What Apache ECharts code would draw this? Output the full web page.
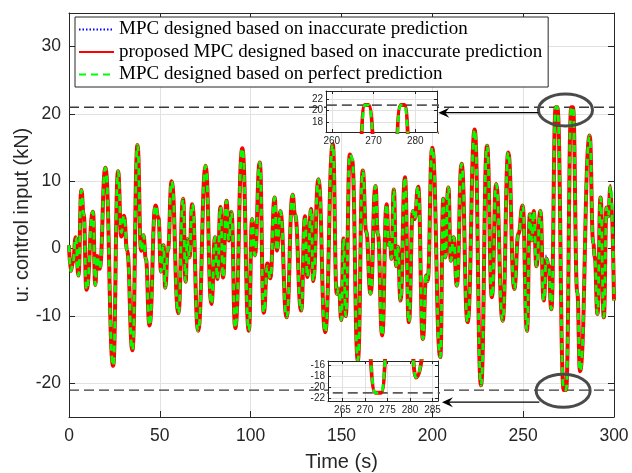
<!DOCTYPE html>
<html><head><meta charset="utf-8">
<script src="https://cdn.jsdelivr.net/npm/echarts@6/dist/echarts.min.js"></script>
<style>html,body{margin:0;padding:0;background:#fff}#c{width:632px;height:473px}</style>
</head><body><div id="c"></div>
<script>
// ---- data ----
const timeS = [
  0, 1.0, 2.2, 3.7, 5.2, 6.8, 8.1, 9.6, 13.2, 14.5,
  15.4, 16.9, 20.0, 24.3, 27.0, 28.8, 30.3, 32.0, 34.9, 37.7,
  39.7, 41.0, 42.3, 44.3, 47.6, 49.2, 50.7, 52.0, 53.0, 54.4,
  56.5, 60.2, 62.8, 64.2, 65.1, 66.3, 67.8, 71.1, 75.2, 78.4,
  80.4, 81.7, 83.4, 84.8, 86.7, 88.0, 89.4, 91.5, 95.4, 99.0,
  100.8, 102.3, 105.0, 107.2, 109.2, 110.8, 113.2, 114.5, 116.3, 119.8,
  123.1, 124.4, 127.8, 129.9, 131.2, 133.3, 134.4, 137.3, 141.0, 145.2,
  147.4, 148.6, 149.9, 151.1, 152.3, 154.6, 155.8, 159.0, 161.7, 163.6,
  166.0, 168.7, 170.0, 172.4, 174.8, 176.1, 176.8, 177.5, 178.8, 180.1,
  181.0, 182.5, 184.9, 187.1, 189.3, 190.3, 192.2, 194.8, 196.6, 197.4,
  199.9, 204.4, 206.0, 207.1, 208.8, 210.2, 211.7, 213.5, 216.1, 219.4,
  223.3, 226.8, 230.1, 232.8, 235.1, 238.7, 241.8, 245.1, 247.4, 249.7,
  252.1, 253.7, 254.8, 255.8, 257.3, 259.5, 261.3, 262.8, 264.0, 265.5,
  267.9, 268.8, 272.3, 273.6, 276.5, 277.4, 279.8, 281.3, 286.6, 288.6,
  289.4, 290.9, 292.6, 294.4, 295.9, 296.8, 298.1, 300.0
];
const uProposed = [
  0.5, -3.3, -2.0, 1.7, -4.0, 8.7, 5.1, -6.1, 5.5, -5.4,
  -1.1, -3.0, 12.0, -17.4, 11.5, 1.8, 4.9, -0.3, -15.1, 15.4,
  -0.3, 2.0, -1.5, -11.4, 6.4, 4.6, -3.4, 0.5, -5.8, -0.3,
  10.0, -9.6, 7.4, -4.9, 1.4, -1.3, 6.6, -12.2, 12.3, -8.2,
  1.7, -4.5, 6.2, -4.3, 7.1, 1.2, 5.5, -11.8, 14.9, -12.2,
  4.4, -1.0, 12.8, -9.5, -2.2, -4.4, 7.6, -0.3, 5.6, -10.2,
  8.0, 5.1, -9.2, 4.8, -4.2, 5.9, -4.8, 10.3, -12.4, 15.5,
  -6.7, -5.9, -10.6, 1.5, -10.0, 14.0, 13.2, -16.6, 11.6, 2.5,
  -6.7, 9.3, 2.2, -12.9, 6.6, 0.5, 1.3, -1.5, 8.8, -2.6,
  0.3, -7.7, 10.6, -10.9, 5.6, 4.4, 9.2, -13.4, -4.0, -4.8,
  15.0, -16.1, 7.4, -1.3, 9.1, -1.8, 1.7, -5.5, 12.6, -10.9,
  17.7, -20.3, 15.3, -7.2, 9.6, -10.7, 14.3, -6.0, 2.2, 6.4,
  -12.2, 5.1, 1.2, 5.6, -2.6, 5.6, -7.7, -1.5, -2.5, -9.0,
  21, 21, -21, -21, 21, 21, -6.5, -18.2, 16.8, 0.8,
  -1.2, -9.7, 7.6, -10.2, 6.1, 4.8, 9.3, -7.7
];
const uPerfect = [
  0.5, -3.3, -2.0, 1.7, -4.0, 8.7, 5.1, -6.1, 5.5, -5.4,
  -1.1, -3.0, 12.0, -17.4, 11.5, 2.4, 4.9, -0.3, -15.1, 15.4,
  -0.3, 2.0, -1.5, -11.4, 6.4, 4.6, -3.4, 0.5, -5.8, -0.3,
  10.0, -9.6, 7.4, -4.9, 1.4, -1.3, 6.6, -12.2, 12.3, -8.2,
  1.7, -4.5, 6.2, -4.3, 7.1, 1.2, 5.5, -11.8, 14.9, -12.2,
  4.4, -1.0, 12.8, -9.5, -2.6, -4.4, 7.6, -0.3, 5.6, -10.2,
  8.0, 5.1, -9.2, 4.8, -4.2, 5.9, -4.8, 10.3, -12.4, 15.5,
  -6.7, -5.9, -10.6, 1.5, -10.0, 14.0, 13.5, -16.6, 11.6, 2.5,
  -6.7, 9.3, 2.2, -12.9, 6.6, 0.5, 1.3, -1.5, 8.8, -2.6,
  0.3, -7.7, 10.6, -10.9, 5.6, 4.4, 9.2, -13.4, -3.6, -4.8,
  15.0, -16.1, 7.4, -1.3, 9.1, -1.8, 1.7, -5.5, 12.6, -10.9,
  17.7, -20.3, 15.3, -7.2, 9.6, -10.7, 14.3, -6.0, 2.2, 6.4,
  -12.2, 5.1, 1.2, 5.6, -2.6, 5.6, -7.7, -1.5, -2.5, -9.0,
  21, 21, -21, -21, 21, 21, -6.5, -18.2, 16.8, 0.8,
  -1.2, -9.7, 7.6, -10.2, 6.1, 4.8, 9.3, -7.7
];
const uInaccurate = [
  0.5, -3.3, -2.0, 1.7, -4.0, 8.7, 5.1, -6.1, 5.5, -5.4,
  -1.5, -3.0, 12.0, -17.4, 11.5, 2.8, 4.9, -0.3, -15.1, 15.4,
  -0.3, 2.0, -1.5, -11.4, 6.4, 4.6, -3.4, 0.5, -5.8, -0.3,
  10.0, -9.6, 7.4, -4.9, 1.4, -1.3, 6.6, -12.2, 12.3, -8.2,
  1.7, -4.5, 6.2, -4.3, 7.1, 1.2, 5.5, -11.8, 14.9, -12.2,
  4.4, -1.0, 12.8, -9.5, -2.2, -4.4, 7.6, -0.3, 5.6, -10.2,
  8.0, 5.1, -9.2, 4.8, -4.2, 5.9, -4.8, 10.3, -12.4, 15.5,
  -6.7, -5.9, -10.6, 1.5, -10.0, 14.0, 13.2, -16.6, 11.6, 2.5,
  -6.7, 9.3, 2.2, -12.9, 6.6, 0.5, 1.3, -1.5, 8.8, -2.6,
  0.3, -7.7, 10.6, -10.9, 5.6, 5.4, 9.2, -13.4, -4.0, -4.8,
  15.0, -16.1, 7.4, -1.3, 9.1, -1.8, 1.7, -5.5, 12.6, -10.9,
  17.7, -20.3, 15.3, -7.2, 9.6, -10.7, 14.3, -6.0, 2.2, 6.4,
  -12.2, 5.1, 1.2, 5.6, -2.6, 5.6, -7.7, -1.0, -2.5, -9.0,
  21, 21, -21, -21, 21, 21, -6.5, -18.2, 16.8, 0.8,
  -1.2, -9.7, 7.6, -10.2, 6.1, 4.8, 9.3, -7.7
];
const seriesNames = [
  'MPC designed based on inaccurate prediction',
  'proposed MPC designed based on inaccurate prediction',
  'MPC designed based on perfect prediction'
];
const limitValue = 21;
const xTicksMain = [0, 50, 100, 150, 200, 250, 300];
const yTicksMain = [-20, -10, 0, 10, 20, 30];
const xTicksTopInset = [260, 270, 280];
const yTicksTopInset = [18, 20, 22];
const xTicksBotInset = [265, 270, 275, 280, 285];
const yTicksBotInset = [-22, -20, -18, -16];
// annotation anchors (data coordinates of main axes)
const ellipseTop = [273.3, 20.6];
const ellipseBot = [272.0, -21.1];
const arrowTop = [[258.4, 20.2], [203.3, 20.2]];
const arrowBot = [[258.9, -22.8], [205.3, -22.8]];

// ---- build ----
const AX = '#262626', GRIDC = '#e2e2e2';
const SANS = '"Liberation Sans", Arial, Helvetica, sans-serif';
const SERIF = '"Liberation Serif", "Times New Roman", serif';
function pairs(vals) { return timeS.map((t, i) => [t, vals[i]]); }
const limitLine = (v) => [[0, v], [300, v]];

function axisX(grid, pos, min, max, ticks, fs, tickLen, showLabel, z, extra) {
  return Object.assign({
    type: 'value', gridIndex: grid, position: pos, min: min, max: max, z: z,
    axisLine: { show: true, onZero: false, lineStyle: { color: AX, width: 1 } },
    axisTick: { show: true, inside: true, length: tickLen, customValues: ticks, lineStyle: { color: AX } },
    axisLabel: { show: showLabel, customValues: ticks, fontSize: fs, color: AX, fontFamily: SANS, margin: fs > 12 ? 10 : 4 },
    splitLine: { show: showLabel, lineStyle: { color: GRIDC, width: 1 } }
  }, extra || {});
}
function axisY(grid, pos, min, max, ticks, fs, tickLen, showLabel, z, extra) {
  return Object.assign({
    type: 'value', gridIndex: grid, position: pos, min: min, max: max, z: z,
    axisLine: { show: true, onZero: false, lineStyle: { color: AX, width: 1 } },
    axisTick: { show: true, inside: true, length: tickLen, customValues: ticks, lineStyle: { color: AX } },
    axisLabel: { show: showLabel, customValues: ticks, fontSize: fs, color: AX, fontFamily: SANS, margin: fs > 12 ? 8 : 3 },
    splitLine: { show: showLabel, lineStyle: { color: GRIDC, width: 1 } }
  }, extra || {});
}

const xAxes = [
  axisX(0, 'bottom', 0, 300, xTicksMain, 17.5, 6, true, 0, {
    name: 'Time (s)', nameLocation: 'middle', nameGap: 35, nameMoveOverlap: false,
    nameTextStyle: { fontSize: 20, color: AX, fontFamily: SANS }
  }),
  axisX(0, 'top', 0, 300, xTicksMain, 17.5, 6, false, 0),
  axisX(1, 'bottom', 258.6, 285.2, xTicksTopInset, 10, 3, true, 10),
  axisX(1, 'top', 258.6, 285.2, xTicksTopInset, 10, 3, false, 10),
  axisX(2, 'bottom', 261.8, 286.2, xTicksBotInset, 10, 3, true, 10),
  axisX(2, 'top', 261.8, 286.2, xTicksBotInset, 10, 3, false, 10)
];
const yAxes = [
  axisY(0, 'left', -25, 35, yTicksMain, 17.5, 6, true, 0, {
    name: 'u: control input (kN)', nameLocation: 'middle', nameGap: 37, nameRotate: 90, nameMoveOverlap: false,
    nameTextStyle: { fontSize: 20, color: AX, fontFamily: SANS }
  }),
  axisY(0, 'right', -25, 35, yTicksMain, 17.5, 6, false, 0),
  axisY(1, 'left', 16.2, 23.5, yTicksTopInset, 10, 3, true, 10),
  axisY(1, 'right', 16.2, 23.5, yTicksTopInset, 10, 3, false, 10),
  axisY(2, 'left', -22.5, -15.2, yTicksBotInset, 10, 3, true, 10),
  axisY(2, 'right', -22.5, -15.2, yTicksBotInset, 10, 3, false, 10)
];

const series = [];
[[0, 0], [2, 2], [4, 4]].forEach(([xi, yi], k) => {
  const z = k === 0 ? 2 : 11;
  const limCol = k === 0 ? '#3a3a3a' : '#5a5a5a';
  const limW = k === 0 ? 1.3 : 1.8;
  series.push({ type: 'line', xAxisIndex: xi, yAxisIndex: yi, z: z, silent: true, symbol: 'none',
    data: limitLine(limitValue), lineStyle: { color: limCol, width: limW, type: [10, 5] } });
  series.push({ type: 'line', xAxisIndex: xi, yAxisIndex: yi, z: z, silent: true, symbol: 'none',
    data: limitLine(-limitValue), lineStyle: { color: limCol, width: limW, type: [10, 5] } });
  series.push({ name: seriesNames[0], type: 'line', xAxisIndex: xi, yAxisIndex: yi, z: z, symbol: 'none',
    smooth: 0.5, smoothMonotone: 'x', data: pairs(uInaccurate), color: '#0000ff',
    lineStyle: { color: '#0000ff', width: 1.6, type: [1.5, 2] } });
  series.push({ name: seriesNames[1], type: 'line', xAxisIndex: xi, yAxisIndex: yi, z: z, symbol: 'none',
    smooth: 0.5, smoothMonotone: 'x', data: pairs(uProposed), color: '#ff0000',
    lineStyle: { color: '#ff0000', width: 4 } });
  series.push({ name: seriesNames[2], type: 'line', xAxisIndex: xi, yAxisIndex: yi, z: z, symbol: 'none',
    smooth: 0.5, smoothMonotone: 'x', data: pairs(uPerfect), color: '#00ff00',
    lineStyle: { color: '#00ff00', width: 2.8, type: [7, 5] } });
});

const option = {
  animation: false,
  backgroundColor: '#fff',
  grid: [
    { left: 69, top: 13, width: 545, height: 404, outerBoundsMode: 'none', containLabel: false },
    { left: 326, top: 91, width: 111, height: 41, show: true, backgroundColor: '#fff', borderWidth: 0, z: 9, outerBoundsMode: 'none', containLabel: false },
    { left: 328, top: 361, width: 110, height: 40, show: true, backgroundColor: '#fff', borderWidth: 0, z: 9, outerBoundsMode: 'none', containLabel: false }
  ],
  xAxis: xAxes,
  yAxis: yAxes,
  legend: {
    data: seriesNames, orient: 'vertical', left: 75, top: 17,
    itemWidth: 35, itemHeight: 12, itemGap: 3.5,
    padding: [3, 6, 3, 3],
    borderColor: AX, borderWidth: 1, backgroundColor: '#fff',
    itemStyle: { opacity: 0 },
    textStyle: { fontFamily: SERIF, fontSize: 19, color: '#000' },
    selectedMode: false, z: 12
  },
  series: series
};

const chart = echarts.init(document.getElementById('c'));
chart.setOption(option);

function toPx(p) { return chart.convertToPixel({ xAxisIndex: 0, yAxisIndex: 0 }, p); }
const eT = toPx(ellipseTop), eB = toPx(ellipseBot);
const aT0 = toPx(arrowTop[0]), aT1 = toPx(arrowTop[1]);
const aB0 = toPx(arrowBot[0]), aB1 = toPx(arrowBot[1]);
function arrow(a0, a1) {
  const tip = a1;
  return [
    { type: 'line', z: 30, shape: { x1: a0[0], y1: a0[1], x2: tip[0] + 6, y2: tip[1] },
      style: { stroke: '#000', lineWidth: 1.2 } },
    { type: 'polygon', z: 30, shape: { points: [[tip[0], tip[1]], [tip[0] + 11, tip[1] - 5], [tip[0] + 7, tip[1]], [tip[0] + 11, tip[1] + 5]] },
      style: { fill: '#000' } }
  ];
}
chart.setOption({
  graphic: [
    { type: 'ellipse', z: 30, shape: { cx: eT[0], cy: eT[1], rx: 27, ry: 16 },
      style: { fill: null, stroke: '#4a4a4a', lineWidth: 3 } },
    { type: 'ellipse', z: 30, shape: { cx: eB[0], cy: eB[1], rx: 27, ry: 16.5 },
      style: { fill: null, stroke: '#4a4a4a', lineWidth: 3 } }
  ].concat(arrow(aT0, aT1), arrow(aB0, aB1))
});
</script>
</body></html>
